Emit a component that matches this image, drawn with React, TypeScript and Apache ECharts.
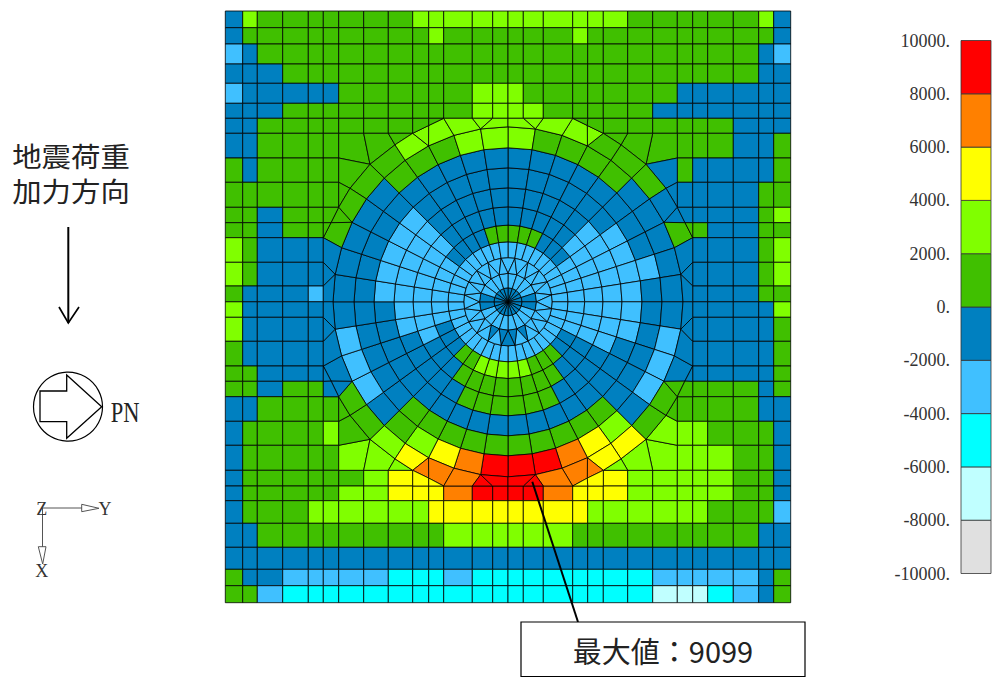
import React, { useEffect, useRef } from "react";
import * as echarts from "echarts";

// Mesh lines of the rectangular part of the model
const xLines = [225.3, 242.7, 257.3, 282.7, 308.3, 323.3, 338.7, 363.7, 388.3, 412.7, 428.7, 443.7, 472.3, 492.7, 508, 523.3, 543.3, 572.7, 587.7, 603.3, 627.7, 652.7, 677.3, 692.7, 707.7, 733.3, 758.7, 773.7, 790.7];
const yLines = [11, 27.7, 44, 64, 83.3, 103.3, 118.3, 133.3, 158, 182.3, 207.3, 222.7, 237.7, 262.3, 286, 301.8, 317.3, 341.3, 366, 381.3, 396.7, 421.3, 445.3, 470.3, 486, 500.7, 523.3, 547.3, 569.3, 585.7, 602.7];
const center = [508, 301.8];
const radii = [0, 14, 28.5, 44, 60, 76.7, 95, 114, 134, 154, 175];

// Value band of each element
const bandValue: Record<string, number> = { W: -9000, P: -7000, C: -5000, S: -3000, B: -1000, G: 1000, L: 3000, Y: 5000, O: 7000, R: 9000 };

const gridRows = [
  "BL GGGGGGG LLLLLLLLLLL GGGGGG LB",
  "B GGGGGGGGG L GGGGGG L GGGGGGGGG B",
  "SB GGGGGGGGGGGGGGGGGGGGGGGG BS",
  "BBB GGGGGGGGGGGGGGGGGGGGGGG BB",
  "SBBBBB GGGGGG LLL GGGGGGG BBBBBB",
  "BBB GGGGGGGGG LLLL GGGGG BBBBBBB",
  "BB GGGGGGG .......... GGGGGG BBB",
  "BBGGGG ................ GGGBBG",
  "GBGGGG ................ GBBBBG",
  "GGGGGG ................ BBBBGG",
  "GGBGG .................. BBBGL",
  "GGBGG .................. GBBGG",
  "LGBBB .................. BBBGL",
  "LGBBB .................. BBBGL",
  "GBBBS .................. BBBGG",
  "LBBBB .................. BBBBL",
  "LBBBB .................. BBBBG",
  "GBBBB .................. BBBBG",
  "GGBBB .................. BBBBG",
  "GGBGG .................. GGGBG",
  "BBGGGG ................ GGGGBB",
  "BGGGGL ................ LLGGGB",
  "BGGGGG ................ LLLGGB",
  "BGGGGGGLY .......... YLLLLLGGB",
  "BGGGGGLLYYYORRRROYYYLLLLLGGB",
  "BGGG LLLLLL YYYYYYYY LLLLLL GGG S",
  "BB GGGGGGGGG LLLLLL GGGGGGGGG BB",
  "BBBBBBBBBBBBBBBBBBBBBBBBBBBB",
  "GBB SSSSS CCC S CCCCCCCCC SSSSS BG",
  "GG S CCCCCCCCCCCCCCCCCC PPP C S BG",
];

// Ring sectors, clockwise from the top; index 3 is the ring between radii[3] and radii[4]
const ringRows = [
  "SSSSSSSSSSSSSSSSSSSSSSSSSSSSSSSSSSSSSSSS",
  "GGGBBBSSSS SSSBBGGGLL LLLGGBBBSS SSSSBBBBGG",
  "BBBBBSSSSS SSSBBBGGGG GGGGBBBSSS SSSSSBBBBB",
  "BBBBBSSSSS SSSBBBBGGG GGGBBBBBSS SSSSSBBBBB",
  "BBBBBBSSSS SSBBBBBBBB BBBBBBBBBB SSSSSBBBBB",
  "BBBBBBBBSB BBBBBGGGGG GGGGGBBBBB BBBBBBBBBB",
  "LGGGGBBBBB BSSSBLYORR ROYLGBSSSB BBBBBGGGLL",
];

// Centre of the model: 20 sectors and a star-shaped ring of kites and triangles
const coreDisc = "BBBBBBBBBBBBBBBBBBBB";
const coreRing = "SSSSBBSSSSSSSSBBSSSS";
const starKites = "SSSSSSSSSSBSSSSSSSSS";
const starTriangles = "SSSSSSSSBBBBSSSSSSSS";

// Transition elements between circle and grid, written for the upper-left quarter
const specialNodes: Record<string, number[]> = { A: [-158, -113.5], E: [-138, -137.5], K: [-113, -157], D: [-79.3, -176.3], F: [-177, -79.1] };
const transitionCells = [
  "g6,7 g7,7 E g6,8",
  "g7,7 g8,7 K E", "E K R6 R5", "g8,7 g9,7 K", "K g9,7 R7 R6", "g9,7 D R7", "D g11,6 R8 R7",
  "g9,6 g10,6 D g9,7", "g10,6 g11,6 D", "g11,6 g12,6 R9 R8", "g12,6 g13,6 R9", "g13,6 g14,6 R10 R9",
  "g6,8 g6,9 A E", "E A R4 R5", "g6,9 g6,10 A", "A g6,10 R3 R4", "g6,10 F R3", "F g5,12 R2 R3",
  "g5,10 g5,11 F g6,10", "g5,11 g5,12 F", "g5,12 g5,13 R1 R2", "g5,13 g5,14 R1", "g5,14 g5,15 R0 R1",
];
const transitionTopLeft = "GGGGLLLGGLLLGGGGGGGGBBB";
const transitionTopRight = "GGGGGLLGGLLLBGBBBGBGBBB";
const transitionBottomLeft = "LLLLYOOYYORRGGGGBBBBBBB";
const transitionBottomRight = "LLYLYOOYYORRLGGGGBGBBBB";

// Colour scale
const bandLimits = [-10000, -8000, -6000, -4000, -2000, 0, 2000, 4000, 6000, 8000, 10000];
const bandColors = ["#e0e0e0", "#c0ffff", "#00ffff", "#40c0ff", "#0080c0", "#40c000", "#80ff00", "#ffff00", "#ff8000", "#ff0000"];

const peakLabel = "最大値：9099";
const loadTitle = ["地震荷重", "加力方向"];

function colorOf(v: number) {
  for (let i = 0; i < bandColors.length; i++) if (v < bandLimits[i + 1]) return bandColors[i];
  return bandColors[bandColors.length - 1];
}

function polar(r: number, sector: number, step: number) {
  const a = (sector * step * Math.PI) / 180;
  return [center[0] + r * Math.sin(a), center[1] - r * Math.cos(a)];
}

type Cell = { points: number[][]; value: number };

function buildCells(): Cell[] {
  const cells: Cell[] = [];
  gridRows.forEach((raw, r) => {
    raw.replace(/ /g, "").split("").forEach((ch, c) => {
      if (ch === ".") return;
      cells.push({
        points: [[xLines[c], yLines[r]], [xLines[c + 1], yLines[r]], [xLines[c + 1], yLines[r + 1]], [xLines[c], yLines[r + 1]]],
        value: bandValue[ch],
      });
    });
  });
  ringRows.forEach((raw, k) => {
    const ring = k + 3;
    raw.replace(/ /g, "").split("").forEach((ch, s) => {
      cells.push({
        points: [polar(radii[ring], s, 9), polar(radii[ring + 1], s, 9), polar(radii[ring + 1], s + 1, 9), polar(radii[ring], s + 1, 9)],
        value: bandValue[ch],
      });
    });
  });
  for (let j = 0; j < 20; j++) {
    cells.push({ points: [center, polar(radii[1], j, 18), polar(radii[1], j + 1, 18)], value: bandValue[coreDisc[j]] });
    cells.push({
      points: [polar(radii[1], j, 18), polar(radii[2], j, 18), polar(radii[2], j + 1, 18), polar(radii[1], j + 1, 18)],
      value: bandValue[coreRing[j]],
    });
    const k = 2 * j;
    cells.push({
      points: [polar(radii[2], j, 18), polar(radii[3], k - 1, 9), polar(radii[3], k, 9), polar(radii[3], k + 1, 9)],
      value: bandValue[starKites[j]],
    });
    cells.push({
      points: [polar(radii[2], j, 18), polar(radii[3], k + 1, 9), polar(radii[2], j + 1, 18)],
      value: bandValue[starTriangles[j]],
    });
  }
  const quarters: [number, number, string][] = [
    [0, 0, transitionTopLeft],
    [1, 0, transitionTopRight],
    [0, 1, transitionBottomLeft],
    [1, 1, transitionBottomRight],
  ];
  quarters.forEach(([mx, my, colors]) => {
    const node = (tok: string) => {
      if (tok[0] === "g") {
        const [i, j] = tok.slice(1).split(",").map(Number);
        return [xLines[mx ? 28 - i : i], yLines[my ? 30 - j : j]];
      }
      let dx: number, dy: number;
      if (tok[0] === "R") {
        const a = (Number(tok.slice(1)) * 9 * Math.PI) / 180;
        dx = -radii[10] * Math.cos(a);
        dy = -radii[10] * Math.sin(a);
      } else {
        [dx, dy] = specialNodes[tok];
      }
      return [center[0] + (mx ? -dx : dx), center[1] + (my ? -dy : dy)];
    };
    transitionCells.forEach((cell, i) => {
      cells.push({ points: cell.split(" ").map(node), value: bandValue[colors[i]] });
    });
  });
  return cells;
}

const ink = "#000";
const grey = "#555";
const serif = "'Liberation Serif', serif";
const cjk = "'Noto Sans CJK JP', sans-serif";
const overlay = 100;

function annotations() {
  const line = (pts: number[][], stroke = ink, lineWidth = 1.2) => ({
    type: "polyline",
    z: overlay,
    shape: { points: pts },
    style: { stroke, lineWidth, fill: "none" },
    silent: true,
  });
  const shape = (type: string, s: any, stroke = ink, lineWidth = 1.2, fill = "none") => ({
    type,
    z: overlay,
    shape: s,
    style: { fill, stroke, lineWidth },
    silent: true,
  });
  const text = (t: string, x: number, y: number, font: string, size: number, fill = "#222", scaleX = 1) => ({
    type: "text",
    z: overlay,
    x,
    y,
    scaleX,
    style: { text: t, font: `${size}px ${font}`, fill, textAlign: "center", textVerticalAlign: "middle" },
    silent: true,
  });
  return [
    text(loadTitle[0], 71, 155, cjk, 27, "#222", 1.09),
    text(loadTitle[1], 71, 190, cjk, 27, "#222", 1.09),
    line([[68.3, 227], [68.3, 323]], ink, 2),
    line([[59, 307], [68.3, 323], [79, 307]], ink, 1.7),
    shape("circle", { cx: 68, cy: 406.7, r: 34.5 }),
    shape("polygon", { points: [[40, 391], [66.7, 391], [66.7, 375], [101.7, 406.7], [66.7, 438.3], [66.7, 421.7], [40, 421.7]] }, ink, 1.3),
    text("PN", 125, 412, serif, 30, "#222", 0.75),
    line([[42, 508], [82, 508]], grey, 1),
    shape("polygon", { points: [[81.7, 504.3], [99, 508.3], [81.7, 511.7]] }, grey, 1),
    line([[42.5, 508], [42.5, 547]], grey, 1),
    shape("polygon", { points: [[38.3, 546.7], [42.7, 564], [46, 546.7]] }, grey, 1),
    text("Z", 41.7, 508.5, serif, 18, "#333"),
    text("Y", 105, 508.5, serif, 18, "#333"),
    text("X", 41.7, 571, serif, 18, "#333"),
    line([[532.3, 481.7], [578, 622]], ink, 2),
    shape("rect", { x: 521, y: 622, width: 284, height: 54.5 }, ink, 1.2, "#fff"),
    text(peakLabel, 663, 650, cjk, 29),
  ];
}

export default function App() {
  const ref = useRef<HTMLDivElement>(null);
  useEffect(() => {
    const chart = echarts.init(ref.current!, undefined, { renderer: "svg" });
    const cells = buildCells();
    const legendData = bandColors.map((_, i) => [bandLimits[i], bandLimits[i + 1]]);
    chart.setOption({
      animation: false,
      backgroundColor: "#fff",
      grid: [
        { left: 225.3, top: 11, width: 565.4, height: 591.7 },
        { left: 961, top: 40.5, width: 30, height: 533 },
      ],
      xAxis: [
        { type: "value", gridIndex: 0, min: 225.3, max: 790.7, show: false },
        { type: "value", gridIndex: 1, min: 0, max: 1, show: false },
      ],
      yAxis: [
        { type: "value", gridIndex: 0, min: 11, max: 602.7, inverse: true, show: false },
        {
          type: "value",
          gridIndex: 1,
          min: -10000,
          max: 10000,
          interval: 2000,
          axisLine: { show: false },
          axisTick: { show: false },
          splitLine: { show: false },
          axisLabel: { margin: 11, fontFamily: "Liberation Serif", fontSize: 18, color: "#333", formatter: (v: number) => `${v}.` },
        },
      ],
      series: [
        {
          type: "custom",
          xAxisIndex: 0,
          yAxisIndex: 0,
          silent: true,
          clip: false,
          data: cells.map((c, i) => [i, c.value]),
          renderItem: (_: any, api: any) => {
            const cell = cells[api.value(0)];
            return {
              type: "polygon",
              shape: { points: cell.points.map((p) => api.coord(p)) },
              style: { fill: colorOf(api.value(1)), stroke: "#000", lineWidth: 0.8 },
            };
          },
        },
        {
          type: "custom",
          xAxisIndex: 1,
          yAxisIndex: 1,
          silent: true,
          clip: false,
          data: legendData,
          renderItem: (_: any, api: any) => {
            const lo = api.coord([0, api.value(0)]);
            const hi = api.coord([1, api.value(1)]);
            return {
              type: "rect",
              shape: { x: lo[0], y: hi[1], width: hi[0] - lo[0], height: lo[1] - hi[1] },
              style: { fill: colorOf(api.value(0)), stroke: "#333", lineWidth: 0.8 },
            };
          },
        },
      ],
      graphic: { elements: annotations() },
    });
    return () => chart.dispose();
  }, []);
  return <div ref={ref} style={{ position: "fixed", left: 0, top: 0, width: 993, height: 677 }} />;
}
